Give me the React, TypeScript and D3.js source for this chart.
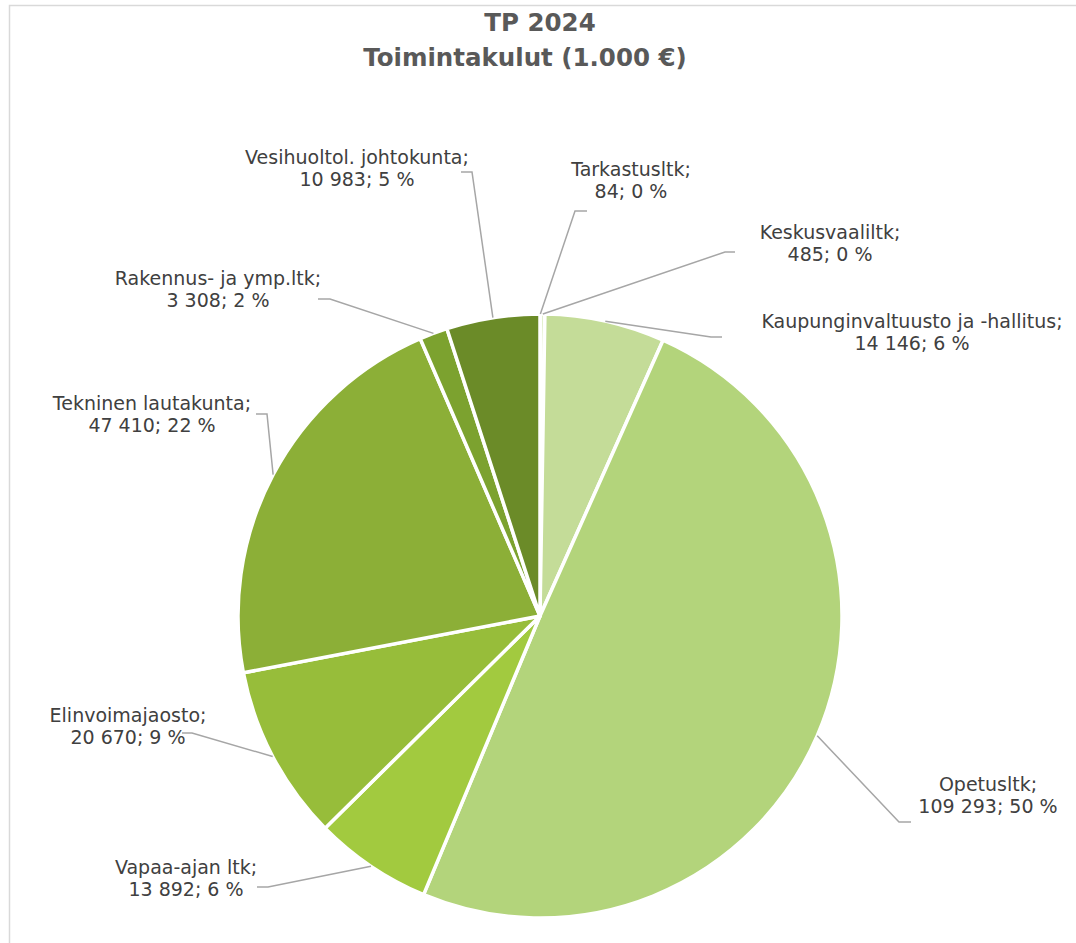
import React from 'react';
import * as d3 from 'd3';

const W = 1076;
const H = 943;

// data, clockwise from 12 o'clock
const names = [
  'Tarkastusltk',
  'Keskusvaaliltk',
  'Kaupunginvaltuusto ja -hallitus',
  'Opetusltk',
  'Vapaa-ajan ltk',
  'Elinvoimajaosto',
  'Tekninen lautakunta',
  'Rakennus- ja ymp.ltk',
  'Vesihuoltol. johtokunta',
];
const values = [84, 485, 14146, 109293, 13892, 20670, 47410, 3308, 10983];
const colors = ['#d6e9b8', '#cde4a6', '#c4dc98', '#b3d47b', '#a2ca3f', '#97bd3a', '#8caf37', '#7ca22f', '#6b8b28'];

// label layout: text center x, first baseline, leader end + elbow
const labelPos: [number, number, [number, number], [number, number]][] = [
  [631, 176, [587, 211], [575, 211]],
  [830, 239, [735, 252], [725, 252]],
  [912, 328, [722, 337], [711, 337]],
  [988, 791, [911, 822], [899, 822]],
  [186, 874, [257, 887], [268, 887]],
  [128, 722, [182, 733], [192, 733]],
  [152, 410, [256, 414], [267, 414]],
  [218, 285, [318, 299], [330, 299]],
  [357, 164, [461, 172], [472, 172]],
];

const fmt = (v: number) => d3.format(',')(v).replace(/,/g, ' ');

export default function App() {
  const cx = 540;
  const cy = 616;
  const r = 302;
  const total = d3.sum(values);

  const pie = d3.pie<number>().value(d => d).sort(null);
  const arcs = pie(values);
  const arc = d3.arc<d3.PieArcDatum<number>>().innerRadius(0).outerRadius(r);

  const font = '"DejaVu Sans", Verdana, sans-serif';

  return (
    <svg width={W} height={H} style={{ position: 'absolute', left: 0, top: 0 }}>
      <rect x={0} y={0} width={W} height={H} fill="#fff" />
      <rect x={9.5} y={5.5} width={1100} height={1100} fill="none" stroke="#d9d9d9" strokeWidth={1.5} />
      <g fontFamily={font} fontWeight="bold" fontSize={24.5} fill="#595959" textAnchor="middle">
        <text x={cx} y={31}>TP 2024</text>
        <text x={cx - 15} y={66}>Toimintakulut (1.000 €)</text>
      </g>
      <g transform={`translate(${cx},${cy})`}>
        {arcs.map((a, i) => (
          <path key={i} d={arc(a) || ''} fill={colors[i]} stroke="#fff" strokeWidth={3.5} strokeLinejoin="round" />
        ))}
      </g>
      <g fill="none" stroke="#a6a6a6" strokeWidth={1.5}>
        {arcs.map((a, i) => {
          const mid = (a.startAngle + a.endAngle) / 2;
          const px = cx + r * Math.sin(mid);
          const py = cy - r * Math.cos(mid);
          const [, , p0, p1] = labelPos[i];
          return <polyline key={i} points={`${p0[0]},${p0[1]} ${p1[0]},${p1[1]} ${px},${py}`} />;
        })}
      </g>
      <g fontFamily={font} fontSize={19} fill="#404040" textAnchor="middle">
        {names.map((n, i) => {
          const [x, y] = labelPos[i];
          const pct = Math.round((values[i] / total) * 100);
          return (
            <text key={i} x={x} y={y}>
              <tspan x={x}>{n};</tspan>
              <tspan x={x} dy={22}>{`${fmt(values[i])}; ${pct} %`}</tspan>
            </text>
          );
        })}
      </g>
    </svg>
  );
}
